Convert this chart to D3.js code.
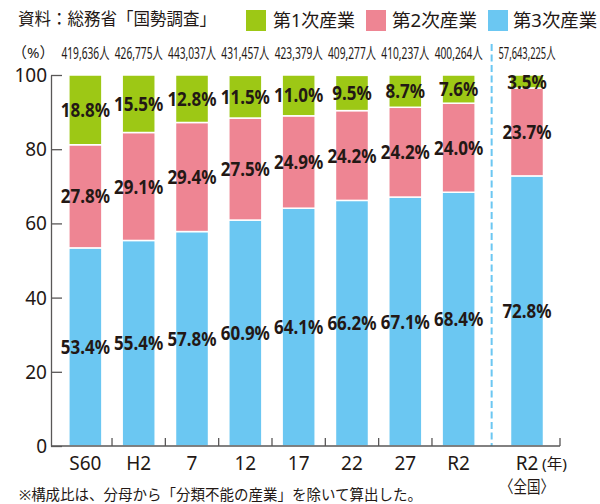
<!DOCTYPE html>
<html lang="ja">
<head>
<meta charset="UTF-8">
<title>産業別就業者構成比</title>
<script src="https://d3js.org/d3.v7.min.js"></script>
<style>
  * { margin: 0; padding: 0; box-sizing: border-box; }
  body { background: #fff; font-family: 'Noto Sans', 'Noto Sans CJK JP', sans-serif; }
  svg text { fill: #231815; }
</style>
</head>
<body>
<div id="chart"></div>
<script>
// 産業別就業者の構成比（%）
const years = ["S60", "H2", "7", "12", "17", "22", "27", "R2"];
const primary = [18.8, 15.5, 12.8, 11.5, 11.0, 9.5, 8.7, 7.6];     // 第1次産業
const secondary = [27.8, 29.1, 29.4, 27.5, 24.9, 24.2, 24.2, 24.0]; // 第2次産業
const tertiary = [53.4, 55.4, 57.8, 60.9, 64.1, 66.2, 67.1, 68.4];  // 第3次産業
const workers = ["419,636人", "426,775人", "443,037人", "431,457人", "423,379人", "409,277人", "410,237人", "400,264人"];

// 全国（R2）
const nationalYear = ["R2"];
const nationalPrimary = [3.5];
const nationalSecondary = [23.7];
const nationalTertiary = [72.8];
const nationalWorkers = ["57,643,225人"];

const yTicks = [0, 20, 40, 60, 80, 100];
const keys = ["tertiary", "secondary", "primary"];
const legendNames = ["第1次産業", "第2次産業", "第3次産業"];
const colors = { primary: "#9dc815", secondary: "#ee8593", tertiary: "#6bc7f2" };

const W = 600, H = 504;
const svg = d3.select("#chart").append("svg")
  .attr("width", W).attr("height", H);

const y = d3.scaleLinear().domain([0, 100]).range([446, 75]);

const x = d3.scaleBand().domain(years)
  .range([58.7, 485.3])
  .paddingInner(0.38).paddingOuter(0.19);

const xNat = d3.scaleBand().domain(nationalYear)
  .range([494, 560])
  .paddingInner(0.5).paddingOuter(0.25);

const rows = years.map((yr, i) => ({
  year: yr, primary: primary[i], secondary: secondary[i], tertiary: tertiary[i]
}));
const natRows = nationalYear.map((yr, i) => ({
  year: yr, primary: nationalPrimary[i], secondary: nationalSecondary[i], tertiary: nationalTertiary[i]
}));

const stack = d3.stack().keys(keys);

// 横に詰めた文字（元の図の書体が狭いので）
function condense(sel, factor) {
  sel.each(function () {
    const w = this.getComputedTextLength();
    this.setAttribute("textLength", w * factor);
    this.setAttribute("lengthAdjust", "spacingAndGlyphs");
  });
}
function fitTo(sel, width) {
  sel.attr("textLength", width).attr("lengthAdjust", "spacingAndGlyphs");
}
// 横方向だけ縮める（transformで）
function squeezeTo(sel, width) {
  sel.each(function () {
    const w = this.getComputedTextLength();
    const s = Math.min(1, width / w);
    const t = d3.select(this);
    const cx = +t.attr("x"), cy = +t.attr("y");
    t.attr("x", 0).attr("y", 0)
      .attr("transform", `translate(${cx},${cy}) scale(${s},1)`);
  });
}

// タイトルと凡例
svg.append("text")
  .attr("x", 18).attr("y", 25)
  .style("font-size", "17.5px")
  .text("資料：総務省「国勢調査」")
  .call(fitTo, 198);

const legendItems = [
  { key: "primary", name: legendNames[0], sx: 246, tx: 273, tw: 82 },
  { key: "secondary", name: legendNames[1], sx: 366, tx: 392, tw: 85 },
  { key: "tertiary", name: legendNames[2], sx: 488, tx: 513, tw: 84 }
];
const lg = svg.append("g").selectAll("g").data(legendItems).join("g");
lg.append("rect")
  .attr("x", d => d.sx).attr("y", 10)
  .attr("width", 20).attr("height", 21)
  .attr("fill", d => colors[d.key]);
lg.append("text")
  .attr("x", d => d.tx).attr("y", 27)
  .style("font-size", "18px")
  .text(d => d.name)
  .each(function (d) { d3.select(this).call(fitTo, d.tw); });

// 単位と就業者数
svg.append("text")
  .attr("x", 12).attr("y", 58)
  .style("font-size", "15px")
  .text("（%）");

svg.append("g").selectAll("text")
  .data(years)
  .join("text")
  .attr("x", d => x(d) + x.bandwidth() / 2)
  .attr("y", 58.5)
  .attr("text-anchor", "middle")
  .style("font-size", "16px")
  .text((d, i) => workers[i])
  .call(squeezeTo, 48);

svg.append("text")
  .attr("x", xNat("R2") + xNat.bandwidth() / 2)
  .attr("y", 58.5)
  .attr("text-anchor", "middle")
  .style("font-size", "16px")
  .text(nationalWorkers[0])
  .call(squeezeTo, 57);

// 区切りの破線
const sepX = (x.range()[1] + xNat.range()[0]) / 2 + 2;
svg.append("line")
  .attr("x1", sepX).attr("x2", sepX)
  .attr("y1", 44).attr("y2", y(0))
  .attr("stroke", colors.tertiary)
  .attr("stroke-width", 2)
  .attr("stroke-dasharray", "7,3.5");

// 棒
function drawBars(data, scale) {
  const series = stack(data);
  const g = svg.append("g");
  g.selectAll("g")
    .data(series)
    .join("g")
    .attr("fill", s => colors[s.key])
    .selectAll("rect")
    .data(s => s)
    .join("rect")
    .attr("x", d => scale(d.data.year))
    .attr("y", d => y(d[1]))
    .attr("width", scale.bandwidth())
    .attr("height", d => y(d[0]) - y(d[1]))
    .attr("stroke", "#fff")
    .attr("stroke-width", 1.5);

  series.forEach(s => {
    g.append("g").selectAll("text")
      .data(s)
      .join("text")
      .attr("x", d => scale(d.data.year) + scale.bandwidth() / 2)
      .attr("y", d => y((d[0] + d[1]) / 2))
      .attr("dy", "0.36em")
      .attr("text-anchor", "middle")
      .style("font-size", "19.5px")
      .style("font-weight", "700")
      .text(d => d.data[s.key].toFixed(1) + "%")
      .call(condense, 0.87);
  });
}
drawBars(rows, x);
drawBars(natRows, xNat);

// Y軸
const yAxis = svg.append("g")
  .attr("transform", "translate(51,0)")
  .call(d3.axisLeft(y).tickValues(yTicks).tickSize(-11).tickSizeOuter(0).tickPadding(4));
yAxis.selectAll("path, line").attr("stroke", "#595757").attr("stroke-width", 1.3);
yAxis.selectAll("text")
  .attr("fill", "#231815")
  .style("font-size", "19px")
  .style("font-family", "'Noto Sans', sans-serif")
  .attr("dy", "0.34em");

// X軸
const axisY = y(0);
svg.append("line")
  .attr("x1", 51).attr("x2", xNat.range()[1])
  .attr("y1", axisY).attr("y2", axisY)
  .attr("stroke", "#595757").attr("stroke-width", 1.3);

const gap = (x.step() - x.bandwidth()) / 2;
const bounds = years.slice(1).map(d => x(d) - gap).concat([xNat.range()[1]]);
svg.append("g").selectAll("line")
  .data(bounds)
  .join("line")
  .attr("x1", d => d).attr("x2", d => d)
  .attr("y1", axisY).attr("y2", axisY - 8)
  .attr("stroke", "#595757").attr("stroke-width", 1.3);

const xAxis = svg.append("g")
  .attr("transform", `translate(0,${axisY})`)
  .call(d3.axisBottom(x).tickSize(0).tickPadding(10.5));
xAxis.select(".domain").remove();
xAxis.selectAll("text")
  .attr("fill", "#231815")
  .style("font-size", "19px")
  .style("font-family", "'Noto Sans', sans-serif");

const natCx = xNat("R2") + xNat.bandwidth() / 2;
svg.append("text")
  .attr("x", natCx).attr("y", 470)
  .attr("text-anchor", "middle")
  .style("font-size", "19px")
  .text(nationalYear[0]);
svg.append("text")
  .attr("x", natCx + 15).attr("y", 469)
  .style("font-size", "15px")
  .text("(年)")
  .call(fitTo, 25);
svg.append("text")
  .attr("x", natCx).attr("y", 492.5)
  .attr("text-anchor", "middle")
  .style("font-size", "17px")
  .text("〈全国〉")
  .call(fitTo, 54);

// 注記
svg.append("text")
  .attr("x", 19).attr("y", 499.5)
  .style("font-size", "15px")
  .text("※構成比は、分母から「分類不能の産業」を除いて算出した。")
  .call(fitTo, 403);
</script>
</body>
</html>
